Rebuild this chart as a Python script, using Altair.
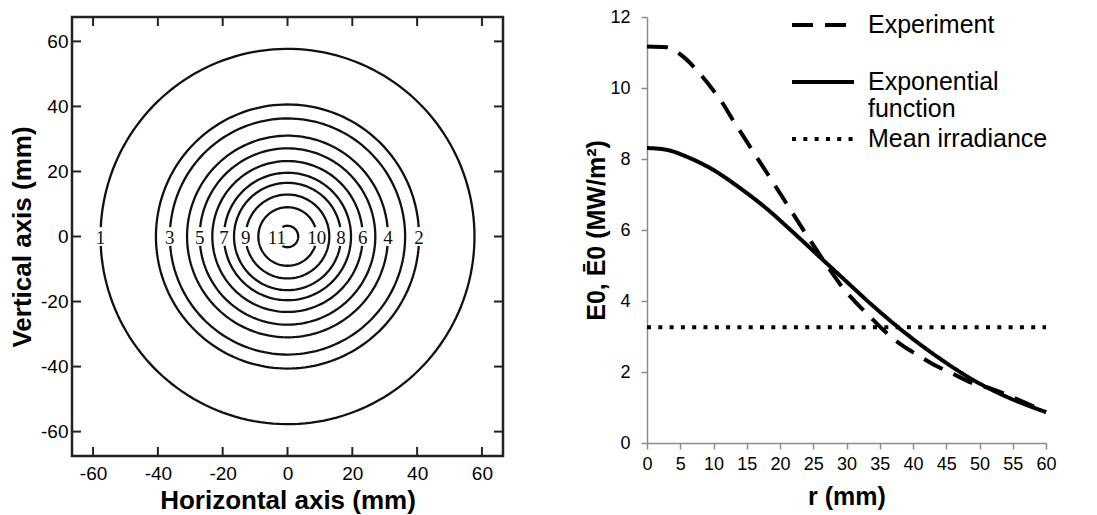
import math
import altair as alt
import pandas as pd

# ---------------- Left panel: irradiance contour rings ----------------
ring_labels = ["1", "2", "3", "4", "5", "6", "7", "8", "9", "10", "11"]
ring_radii = [57.7, 40.6, 36.3, 31.0, 27.1, 23.2, 19.6, 16.5, 12.9, 9.0, 3.3]
ring_label_side = ["left", "right", "left", "right", "left", "right",
                   "left", "right", "left", "right", "left"]
mm_ticks = [-60, -40, -20, 0, 20, 40, 60]

# ---------------- Right panel: radial irradiance profiles ----------------
exp_r = [0, 2.9, 5.4, 7.4, 9.9, 11.2, 13.2, 14.5, 16.5, 18.0, 19.7, 21.2, 23.0, 24.5,
         26.3, 27.8, 29.5, 31.5, 34.0, 35.8, 38.6, 40.6, 43.6, 45.8, 48.9, 51.4,
         54.1, 56.9, 60.0]
exp_e = [11.17, 11.15, 10.89, 10.52, 9.95, 9.62, 9.01, 8.64, 8.05, 7.62, 7.12, 6.68,
         6.15, 5.72, 5.21, 4.80, 4.36, 3.94, 3.47, 3.14, 2.72, 2.49, 2.16, 1.97,
         1.69, 1.55, 1.36, 1.13, 0.87]
fit_r = [0, 2.9, 6.4, 9.9, 14.0, 18.0, 22.0, 26.5, 29.0, 34.0, 39.1, 44.1, 49.1, 54.1, 60.0]
fit_e = [8.31, 8.26, 8.03, 7.70, 7.18, 6.60, 5.93, 5.15, 4.72, 3.86, 3.06, 2.37, 1.77, 1.30, 0.87]
mean_r = [0, 60]
mean_e = [3.26, 3.26]
series_names = ["Experiment", "Exponential function", "Mean irradiance"]
r_ticks = [0, 5, 10, 15, 20, 25, 30, 35, 40, 45, 50, 55, 60]
e_ticks = [0, 2, 4, 6, 8, 10, 12]

FONT = "Liberation Sans"
SERIF = "Liberation Serif"
LW, LH = 431, 439          # left plot area
RW, RH = 399, 426          # right plot area
TICK = 9
GAP_HALF = 2.9             # half height of the gap left in a ring for its label (mm)

# ring outlines, each broken where its label sits
rows = []
for lab, r, side in zip(ring_labels, ring_radii, ring_label_side):
    base = 180.0 if side == "left" else 0.0
    gap = math.degrees(math.asin(min(1.0, GAP_HALF / r)))
    steps = 180
    for k in range(steps + 1):
        t = gap + (360.0 - 2 * gap) * k / steps
        a = math.radians(base + t)
        rows.append({"ring": lab, "k": k, "x": r * math.cos(a), "y": r * math.sin(a)})
rings = pd.DataFrame(rows)
ring_lab_df = pd.DataFrame({
    "ring": ring_labels,
    "x": [(-r if s == "left" else r) for r, s in zip(ring_radii, ring_label_side)],
    "y": [0.0] * len(ring_labels),
})
tick_df = pd.DataFrame({"v": mm_ticks})

HYPHEN = "datum.value < 0 ? '-' + abs(datum.value) : '' + datum.value"
xs = alt.Scale(domain=[-66.5, 66.5], nice=False, zero=False)
ys = alt.Scale(domain=[-67.5, 67.5], nice=False, zero=False)
x_ax = alt.Axis(values=mm_ticks, ticks=False, domain=False, grid=False, labelPadding=8,
                titlePadding=4, labelFontSize=19, titleFontSize=26, labelExpr=HYPHEN,
                labelFlush=False)
y_ax = alt.Axis(values=mm_ticks, ticks=False, domain=False, grid=False, labelPadding=4,
                titlePadding=5, labelFontSize=19, titleFontSize=26, labelExpr=HYPHEN,
                labelFlush=False)
XT = "Horizontal axis (mm)"
YT = "Vertical axis (mm)"

ring_layer = alt.Chart(rings).mark_line(color="#111", strokeWidth=2.3).encode(
    x=alt.X("x:Q", scale=xs, axis=x_ax, title=XT),
    y=alt.Y("y:Q", scale=ys, axis=y_ax, title=YT),
    detail="ring:N",
    order="k:Q",
)
label_layer = alt.Chart(ring_lab_df).mark_text(
    font=SERIF, fontSize=19, color="#111", baseline="middle", align="center", dy=1
).encode(
    x=alt.X("x:Q", scale=xs, axis=x_ax, title=XT),
    y=alt.Y("y:Q", scale=ys, axis=y_ax, title=YT),
    text="ring:N",
)
tick_style = dict(color="#222", strokeWidth=2)
t_left = alt.Chart(tick_df).mark_rule(**tick_style).encode(
    y=alt.Y("v:Q", scale=ys, axis=y_ax, title=YT),
    x=alt.value(0), x2=alt.value(TICK))
t_right = alt.Chart(tick_df).mark_rule(**tick_style).encode(
    y=alt.Y("v:Q", scale=ys, axis=y_ax, title=YT),
    x=alt.value(LW - TICK), x2=alt.value(LW))
t_top = alt.Chart(tick_df).mark_rule(**tick_style).encode(
    x=alt.X("v:Q", scale=xs, axis=x_ax, title=XT),
    y=alt.value(0), y2=alt.value(TICK))
t_bot = alt.Chart(tick_df).mark_rule(**tick_style).encode(
    x=alt.X("v:Q", scale=xs, axis=x_ax, title=XT),
    y=alt.value(LH - TICK), y2=alt.value(LH))

left = alt.layer(ring_layer, t_left, t_right, t_top, t_bot, label_layer).properties(
    width=LW, height=LH,
    view=alt.ViewBackground(stroke="#222", strokeWidth=2.5),
)

# right panel
prof = pd.concat([
    pd.DataFrame({"r": exp_r, "E": exp_e, "series": series_names[0]}),
    pd.DataFrame({"r": fit_r, "E": fit_e, "series": series_names[1]}),
    pd.DataFrame({"r": mean_r, "E": mean_e, "series": series_names[2]}),
], ignore_index=True)
prof["k"] = range(len(prof))

LEG_LABELS = ("datum.label == 'Exponential function' ? ['Exponential', 'function'] : "
              "(datum.label == 'Experiment' ? ['Experiment', ' '] : datum.label)")

right = alt.Chart(prof).mark_line(color="black", strokeWidth=4, interpolate="monotone").encode(
    x=alt.X("r:Q", scale=alt.Scale(domain=[0, 60], nice=False),
            axis=alt.Axis(values=r_ticks, grid=False, tickSize=6, labelPadding=6,
                          titlePadding=11, labelFontSize=18, titleFontSize=25,
                          domainColor="#8c8c8c", tickColor="#8c8c8c", domainWidth=1.5,
                          tickWidth=1.5, labelFlush=False),
            title="r (mm)"),
    y=alt.Y("E:Q", scale=alt.Scale(domain=[0, 12], nice=False),
            axis=alt.Axis(values=e_ticks, grid=False, tickSize=6, labelPadding=11,
                          titlePadding=0, labelFontSize=18, titleFontSize=25,
                          domainColor="#8c8c8c", tickColor="#8c8c8c", domainWidth=1.5,
                          tickWidth=1.5, labelFlush=False),
            title="E0, Ē0 (MW/m²)"),
    strokeDash=alt.StrokeDash(
        "series:N",
        scale=alt.Scale(domain=series_names, range=[[21, 12], [1, 0], [4, 7.3]]),
        legend=alt.Legend(
            title=None, orient="none", legendX=737, legendY=-6, padding=0,
            symbolType="M-2.58,0H2.58", symbolSize=576, symbolStrokeWidth=4,
            symbolStrokeColor="black", labelFontSize=25, labelFont=FONT,
            labelOffset=31, rowPadding=3, labelColor="black", labelLimit=400,
            labelExpr=LEG_LABELS,
        ),
    ),
    detail="series:N",
    order="k:Q",
).properties(width=RW, height=RH, view=alt.ViewBackground(stroke=None))

chart = alt.hconcat(left, right, spacing=78).properties(
    padding={"left": 0, "top": 0, "right": 0, "bottom": 0}
).configure(font=FONT).configure_axis(
    labelColor="black", titleColor="black", labelFont=FONT, titleFont=FONT,
    titleFontWeight="bold"
).configure_view(stroke=None)

chart.save("out.html", embed_options={"renderer": "svg", "actions": False})
